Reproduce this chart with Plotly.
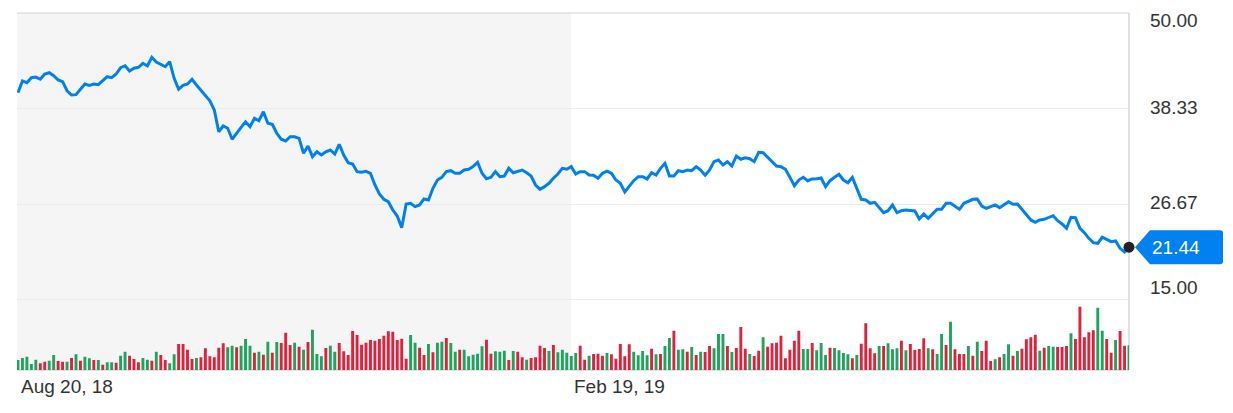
import plotly.graph_objects as go

# daily closes, Aug 20 2018 -> Aug 2019
prices = [
    40.28, 41.71, 41.50, 42.11, 42.19, 41.92, 42.56, 42.72, 42.35, 41.83,
    41.62, 40.52, 40.00, 40.04, 40.70, 41.34, 41.18, 41.34, 41.26, 41.74,
    42.23, 42.11, 42.56, 43.33, 43.57, 42.93, 43.26, 43.38, 43.87, 43.54,
    44.60, 44.02, 43.78, 43.45, 44.06, 42.04, 40.70, 41.18, 41.34, 41.92,
    41.22, 40.61, 40.00, 39.30, 38.17, 35.52, 36.22, 35.94, 34.60, 35.40,
    36.06, 36.74, 36.13, 37.16, 36.86, 37.96, 36.55, 36.43, 35.33, 34.60,
    34.39, 34.91, 34.91, 34.72, 32.89, 33.78, 32.48, 33.08, 32.68, 33.08,
    33.29, 32.80, 33.99, 32.68, 31.74, 31.58, 30.65, 30.57, 30.69, 30.45,
    29.02, 27.93, 27.28, 26.99, 25.98, 25.24, 23.82, 26.71, 26.79, 26.38,
    26.59, 27.32, 27.20, 28.62, 29.63, 29.96, 30.65, 30.77, 30.45, 30.45,
    30.85, 30.94, 31.26, 31.79, 30.45, 29.79, 29.96, 30.65, 30.04, 30.12,
    31.06, 30.52, 30.65, 30.85, 30.52, 30.12, 29.02, 28.50, 28.82, 29.23,
    29.84, 30.37, 31.06, 30.94, 31.26, 30.37, 30.65, 30.65, 30.24, 30.21,
    29.84, 30.45, 30.70, 30.45, 29.63, 29.23, 28.17, 28.90, 29.55, 30.04,
    30.04, 29.76, 30.52, 30.24, 31.06, 31.67, 30.12, 30.12, 30.77, 30.65,
    30.85, 30.77, 31.26, 30.85, 30.21, 30.85, 31.87, 32.07, 31.46, 31.87,
    31.34, 32.56, 32.16, 32.35, 32.23, 31.87, 33.01, 32.96, 32.40, 31.87,
    31.34, 31.26, 30.94, 29.96, 28.94, 29.63, 29.96, 29.55, 29.76,
    29.79, 29.88, 28.82, 29.55, 29.96, 30.33, 29.63, 29.30, 29.96, 28.62,
    27.28, 27.20, 26.79, 26.91, 26.30, 25.65, 25.89, 26.59, 25.65, 25.89,
    25.98, 25.89, 25.85, 24.88, 25.49, 24.96, 25.49, 26.06, 26.06, 26.79,
    26.79, 26.38, 26.06, 26.79, 26.99, 27.28, 27.32, 26.46, 26.18, 26.38,
    26.59, 26.26, 26.59, 26.99, 26.67, 26.71, 26.06, 25.45, 24.76, 24.48,
    24.76, 24.84, 25.09, 25.28, 24.67, 24.27, 23.74, 25.09, 25.04, 23.74,
    23.21, 22.52, 21.99, 21.91, 22.65, 22.40, 22.11, 22.20, 21.30, 20.85,
    21.44,
]

volume = [
    10, 12, 13.3, 6, 10.3, 6.7, 8.3, 9.3, 15, 9,
    8.3, 8.3, 12, 15.7, 9.3, 13.3, 11.7, 10, 10, 5.3,
    7.7, 7.7, 7.3, 14.3, 18.3, 14.3, 11, 7.7, 12, 10.3,
    9.3, 18.3, 15, 10, 6.7, 15.7, 26, 26, 20.3, 11,
    12, 12.7, 21.7, 13.7, 12.7, 22.3, 26.7, 22.7, 24.3, 22.7,
    24.3, 31, 24.3, 17.3, 18.3, 15.3, 28.3, 17.3, 28, 27,
    37.3, 25, 27.3,
    23.3, 20.3, 28, 40.3, 16, 13.7, 22, 24.3, 18.3, 27,
    18.7, 15, 39, 35, 25.3, 27.3, 30, 29.3, 31, 34.3,
    38.7, 38.3, 30, 31.3, 11.3, 35, 27.3, 22.3, 15, 26,
    17.7, 27.3, 28.3, 32, 27, 18.3, 20.3, 20.3, 13.7, 15.3,
    16.3, 23.7, 30.3, 16.3, 18.7, 18.3, 19.3, 10, 19, 18.3,
    12.7, 10.3, 12, 12.7, 24.3, 22, 19, 25, 17.7, 20.3,
    17.3, 14,
    17, 24.3, 10.3, 14.3, 16, 16.3, 14.3, 17, 15.7, 11.3,
    26, 13.7, 25.7, 18.3, 14.7, 19, 14.7, 21.3, 15.7, 16,
    24, 32, 39.3, 20.3, 20.7, 18.3, 23, 15, 18.3, 18,
    24, 21.7, 36, 36, 24, 18, 22, 43, 21.3, 16,
    14, 19.3, 32.7, 23.3, 26.7, 27.3, 34.3, 11.7, 20.3, 29.3,
    39.3, 21, 21, 27, 19.7, 27, 15, 22.3, 22, 19.7,
    17, 15.7,
    11.7, 15, 26.3, 46.7, 21.7, 16.7, 24, 24, 26.7, 20.7,
    21.7, 29.3, 19.7, 26, 20, 21, 31.7, 21.7, 20.7, 16,
    36, 25, 48.3, 20.7, 16, 16, 24, 14.3, 28.3, 19,
    29.3, 9, 10.7, 12.7, 16, 25.7, 14.3, 19, 21.3, 30.7,
    32.7, 35.3, 19.3, 22.3, 24, 23.3, 23, 23, 24, 36.7,
    31, 63.3, 32.7, 37.7, 39.7, 62.3, 39.3, 31, 17.3, 30,
    39, 24.3, 24.7,
]

# G = up day, R = down day
vol_dir = (
    "GGGGGRRGGRRGRGRGGRGRGGRGGRRRGGRGRRGGRRRRGRRRRRRGGRGGGRGRGRGRRRG"
    "RGRGGGRGGRRRRRRRRRRRRRRRRGGRRGRGGRGGRGGGGGRRGGGRGRRGRRRRGRGGGG"
    "GRRGRRRGRRRRRGGGGRGRGGRGGRGRGRRGGGRGRRRGRRGRRRRRRRRGGRGGGRGGGG"
    "RGRRRRGRGGGRGRRRRGRGGRGRRRGRGRRRGRGGRGRRRRGRGGRRRGRRRRRGGRRGRRG"
)

tick_idx = [0, 124]
tick_text = ["Aug 20, 18", "Feb 19, 19"]
y_ticks = [50.00, 38.33, 26.67, 15.00]
y_label_shift = [-7, 1, 1.5, 12]

y_min, y_max = 6.46, 50.0
vol_max = 67.8
n = len(prices)
x = list(range(n))

blue = "#0081f2"
bar_colors = ["#1ea45c" if c == "G" else "#e1213c" for c in vol_dir]

fig = go.Figure()

fig.add_trace(go.Bar(
    x=x, y=volume, marker_color=bar_colors, marker_line_width=0,
    yaxis="y2", showlegend=False, hoverinfo="skip",
))

fig.add_trace(go.Scatter(
    x=x, y=prices, mode="lines", line=dict(color=blue, width=3),
    showlegend=False,
))

# shaded older half
fig.add_shape(type="rect", xref="x", yref="paper", x0=-1, x1=tick_idx[1],
              y0=0, y1=1, fillcolor="#f5f5f5", line_width=0, layer="below")
# top and right border, baseline
fig.add_shape(type="line", xref="paper", yref="paper", x0=0, x1=1, y0=1, y1=1,
              line=dict(color="#d3d3d3", width=1), layer="below")
fig.add_shape(type="line", xref="paper", yref="paper", x0=1, x1=1, y0=0, y1=1,
              line=dict(color="#d9d9d9", width=1.5), layer="below")
fig.add_shape(type="line", xref="paper", yref="paper", x0=0, x1=1, y0=0, y1=0,
              line=dict(color="#dfe3e6", width=2), layer="below")

# price callout
last_frac = (prices[-1] - y_min) / (y_max - y_min)
fig.add_shape(type="path", xref="paper", yref="paper",
              xsizemode="pixel", ysizemode="pixel", xanchor=1, yanchor=last_frac,
              path="M 6,0 L 21,17 L 91,17 Q 94,17 94,14 L 94,-14 Q 94,-17 91,-17 L 21,-17 Z",
              fillcolor=blue, line_width=0, layer="below")

fig.add_trace(go.Scatter(
    x=[x[-1]], y=[prices[-1]], mode="markers", cliponaxis=False,
    marker=dict(color="#222222", size=11, line_width=0), showlegend=False,
))

annotations = []
for v, s in zip(y_ticks, y_label_shift):
    annotations.append(dict(
        xref="paper", x=1, xanchor="left", xshift=19,
        yref="y", y=v, yanchor="middle", yshift=s,
        text=f"{v:.2f}", showarrow=False,
        font=dict(size=19, color="#333333"),
    ))
annotations.append(dict(
    xref="x", x=x[-1], xanchor="left", xshift=21,
    yref="y", y=prices[-1], yanchor="middle",
    text=f"{prices[-1]:.2f}", showarrow=False,
    font=dict(size=19, color="white"),
))
for i, t in zip(tick_idx, tick_text):
    annotations.append(dict(
        xref="x", x=i, xanchor="left", xshift=1,
        yref="paper", y=0, yanchor="middle", yshift=-16,
        text=t, showarrow=False,
        font=dict(size=19, color="#333333"),
    ))

# page body adds 8px, so the figure is 8px smaller and margins shifted
fig.update_layout(
    width=1225, height=405,
    margin=dict(l=9, r=104, t=5, b=43),
    paper_bgcolor="white", plot_bgcolor="rgba(0,0,0,0)",
    font=dict(family="Liberation Sans, Arial, sans-serif"),
    bargap=0.35,
    annotations=annotations,
    xaxis=dict(range=[-0.22, n - 1], showgrid=False, zeroline=False,
               showticklabels=False, ticks=""),
    yaxis=dict(range=[y_min, y_max], tickvals=y_ticks, showticklabels=False,
               gridcolor="#ebebeb", gridwidth=1, zeroline=False),
    yaxis2=dict(domain=[0, 0.19], range=[0, vol_max], showgrid=False,
                showticklabels=False, zeroline=False, anchor="x"),
)

fig.write_html("out.html")
